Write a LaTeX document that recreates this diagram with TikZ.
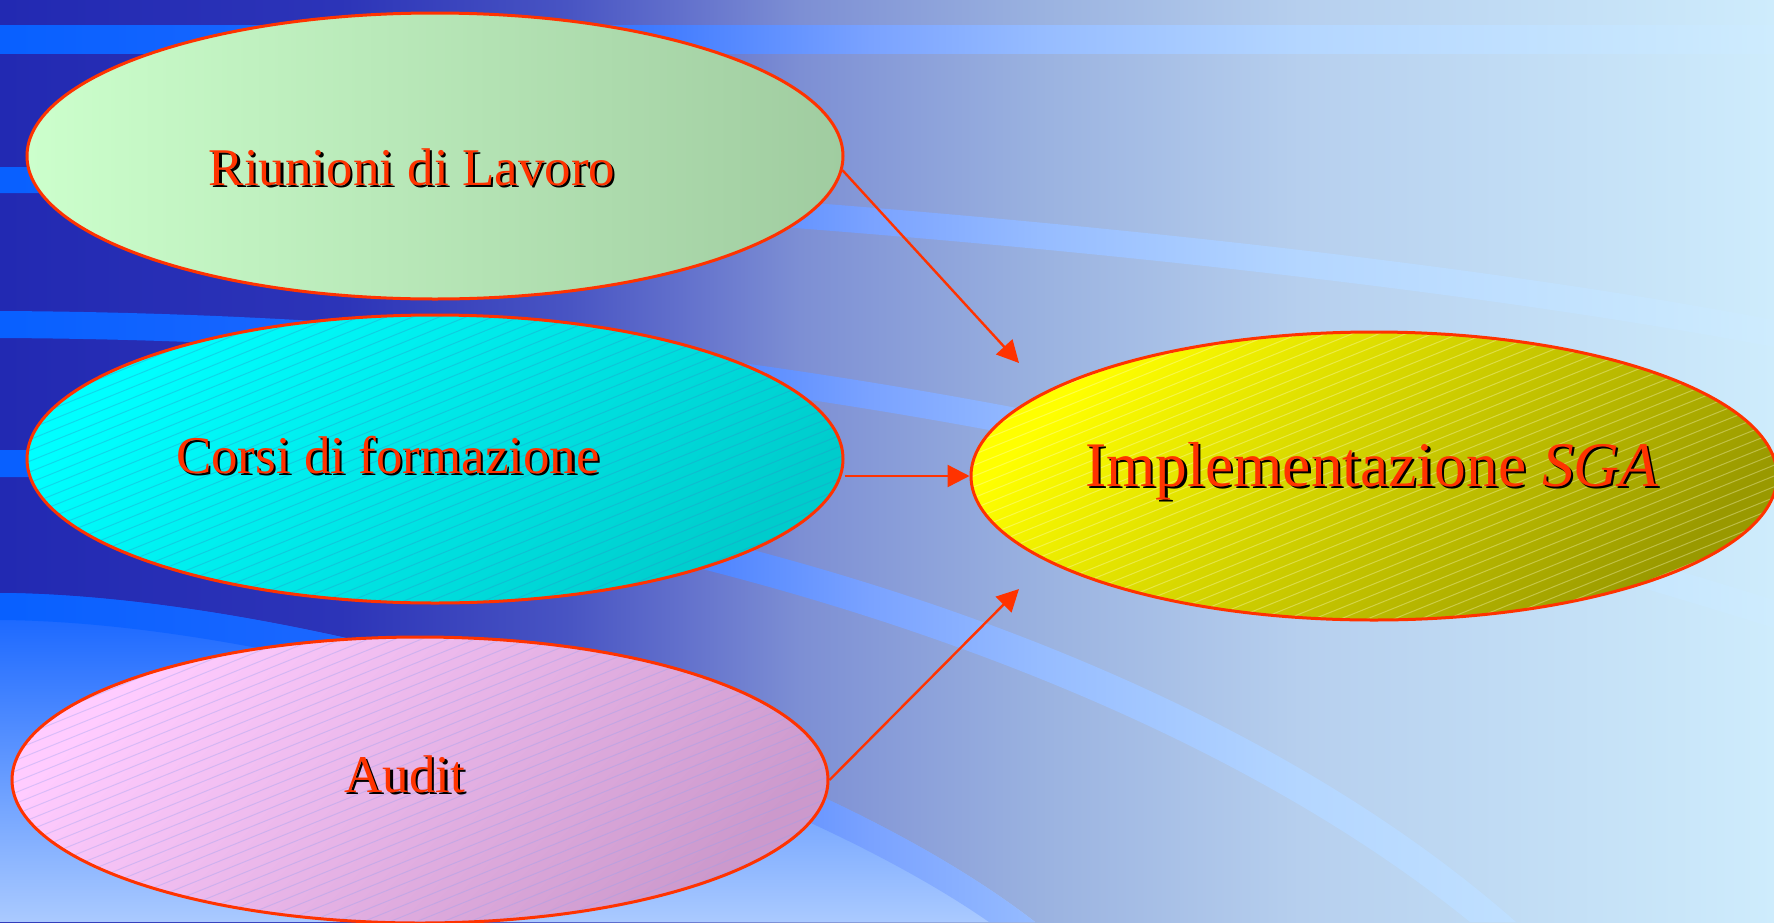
\documentclass[tikz,border=0pt]{standalone}
\usepackage{fontspec}
\setmainfont{Liberation Serif}
\usetikzlibrary{shapes.geometric,arrows.meta}
\definecolor{txtred}{RGB}{255,51,0}
\definecolor{linered}{RGB}{255,51,0}
% background colours
\definecolor{bgA}{RGB}{34,41,178}
\definecolor{bgB}{RGB}{44,52,184}
\definecolor{bgC}{RGB}{72,84,195}
\definecolor{bgD}{RGB}{98,112,204}
\definecolor{bgE}{RGB}{125,143,212}
\definecolor{bgF}{RGB}{154,178,224}
\definecolor{bgG}{RGB}{182,207,238}
\definecolor{bgH}{RGB}{206,236,252}
\definecolor{bnA}{RGB}{8,96,255}
\definecolor{bnB}{RGB}{30,104,255}
\definecolor{bnC}{RGB}{60,120,255}
\definecolor{bnD}{RGB}{122,162,255}
\definecolor{bnE}{RGB}{150,188,255}
\definecolor{bnF}{RGB}{180,214,255}
\definecolor{bnG}{RGB}{206,236,254}
\definecolor{lowtop}{RGB}{16,96,255}
\definecolor{lowbot}{RGB}{170,202,255}
% ellipse colours
\definecolor{greenL}{RGB}{204,255,204}
\definecolor{greenR}{RGB}{160,204,160}
\definecolor{cyanL}{RGB}{0,255,255}
\definecolor{cyanR}{RGB}{0,204,204}
\definecolor{cyanH}{RGB}{40,150,200}
\definecolor{pinkL}{RGB}{255,204,255}
\definecolor{pinkR}{RGB}{204,153,204}
\definecolor{pinkH}{RGB}{150,160,240}
\definecolor{yelL}{RGB}{255,255,0}
\definecolor{yelR}{RGB}{153,153,0}
\definecolor{yelH}{RGB}{255,255,200}
\pgfdeclarehorizontalshading{bgshade}{100bp}{color(0bp)=(bgA); color(25bp)=(bgA); color(34.58bp)=(bgB); color(40.95bp)=(bgC); color(44.17bp)=(bgD); color(47.55bp)=(bgE); color(54.31bp)=(bgF); color(61.64bp)=(bgG); color(75bp)=(bgH); color(100bp)=(bgH)}
\pgfdeclarehorizontalshading{bandshade}{100bp}{color(0bp)=(bnA); color(25bp)=(bnA); color(36.27bp)=(bnB); color(43.04bp)=(bnC); color(49.52bp)=(bnD); color(54.31bp)=(bnE); color(61.64bp)=(bnF); color(75bp)=(bnG); color(100bp)=(bnG)}
\newcommand\shtxt[1]{\makebox[0pt][l]{\hspace*{1.1pt}\raisebox{-1.1pt}{\textcolor{black}{#1}}}\textcolor{txtred}{#1}}
\tikzset{
  ell/.style={shape=ellipse, draw=linered, line width=1.5pt, inner sep=0pt},
  hatchlines/.style={path picture={
      \foreach \k in {-50,...,50}{
        \pgfmathsetmacro{\xa}{3.75*\k-834.3}
        \pgfmathsetmacro{\ya}{9.27*\k+337.5}
        \pgfmathsetmacro{\xb}{3.75*\k+834.3}
        \pgfmathsetmacro{\yb}{9.27*\k-337.5}
        \draw[#1,line width=0.5pt,opacity=0.35]
          ([shift={(\xa,\ya)}]path picture bounding box.center) --
          ([shift={(\xb,\yb)}]path picture bounding box.center);}}},
  arr/.style={draw=linered, line width=1.2pt, -{Triangle[length=11pt,width=11pt]}},
  txt/.style={anchor=base, inner sep=0pt, font=\fontsize{26.5}{30}\selectfont},
  bigtxt/.style={anchor=base, inner sep=0pt, font=\fontsize{31.75}{36}\selectfont}
}
\begin{document}
\begin{tikzpicture}[x=0.5pt,y=-0.5pt]
\useasboundingbox (0,0) rectangle (1774,922);
\clip (0,0) rectangle (1774,922);
% base gradient
\shade[shading=bgshade] (0,0) rectangle (1774,922);
% band A (straight)
\begin{scope}
  \clip (0,25) rectangle (1774,53);
  \shade[shading=bandshade] (0,0) rectangle (1774,922);
\end{scope}
% band B
\begin{scope}
  \clip (0,167) .. controls (500,167) and (1300,230) .. (1774,320) -- (1774,347) .. controls (1300,257) and (500,193) .. (0,193) -- cycle;
  \shade[shading=bandshade] (0,0) rectangle (1774,922);
\end{scope}
% band C
\begin{scope}
  \clip (0,311) .. controls (600,314) and (1150,405) .. (1774,600) -- (1774,628) .. controls (1150,432) and (600,341) .. (0,338) -- cycle;
  \shade[shading=bandshade] (0,0) rectangle (1774,922);
\end{scope}
% band D
\begin{scope}
  \clip (0,450) .. controls (500,450) and (1150,600) .. (1516,922) -- (1470,922) .. controls (1110,630) and (480,477) .. (0,477) -- cycle;
  \shade[shading=bandshade] (0,0) rectangle (1774,922);
\end{scope}
% bottom-left bright region
\begin{scope}
  \clip (0,593) .. controls (300,595) and (800,740) .. (1035,922) -- (0,922) -- cycle;
  \shade[top color=lowtop, bottom color=lowbot] (0,590) rectangle (1774,922);
\end{scope}
% band E
\begin{scope}
  \clip (0,593) .. controls (300,595) and (800,740) .. (1035,922) -- (989,922) .. controls (770,770) and (300,622) .. (0,620) -- cycle;
  \shade[shading=bandshade] (0,0) rectangle (1774,922);
\end{scope}
% ellipses
\node[ell, minimum width=408pt, minimum height=143pt, left color=greenL, right color=greenR] (e1) at (435,156) {};
\node[ell, minimum width=408pt, minimum height=144pt, top color=cyanL, bottom color=cyanR, shading angle=45, hatchlines=cyanH] (e2) at (435,459) {};
\node[ell, minimum width=408pt, minimum height=143pt, top color=pinkL, bottom color=pinkR, shading angle=45, hatchlines=pinkH] (e3) at (420,780) {};
\node[ell, minimum width=403pt, minimum height=144pt, top color=yelL, bottom color=yelR, shading angle=45, hatchlines=yelH] (e4) at (1374,476) {};
% texts
\node[txt] (t1) at (412,185) {\shtxt{Riunioni di Lavoro}};
\node[txt] (t2) at (388,473) {\shtxt{Corsi di formazione}};
\node[txt] (t3) at (405,792) {\shtxt{Audit}};
\node[bigtxt] (t4) at (1372,486) {\shtxt{Implementazione \textit{SGA}}};
% connectors
\coordinate (tip1) at (1019,363);
\coordinate (tip3) at (1019,589);
\draw[arr] (e1.358) -- (tip1);
\draw[arr] (e2.east |- e4.west) -- (e4.west);
\draw[arr] (e3.east) -- (tip3);
\end{tikzpicture}
\end{document}
